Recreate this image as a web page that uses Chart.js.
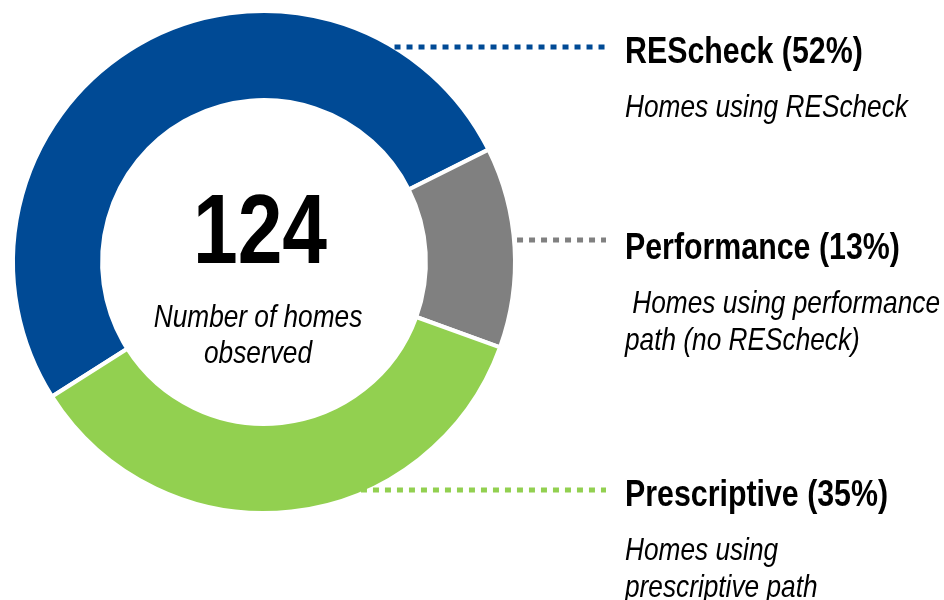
<!DOCTYPE html>
<html>
<head>
<meta charset="utf-8">
<script src="https://cdn.jsdelivr.net/npm/chart.js@4.4.1/dist/chart.umd.min.js"></script>
<style>
    html, body { margin: 0; padding: 0; background: #fff; }
    .chart-box { width: 944px; height: 600px; position: relative; }
</style>
</head>
<body>
<div class="chart-box"><canvas id="pathChart"></canvas></div>
<script>
// Data
const categories = ['REScheck', 'Performance', 'Prescriptive'];
const homeCounts = [64, 16, 44];
const shareLabels = ['52%', '13%', '35%'];
const descriptions = [
    ['Homes using REScheck'],
    [' Homes using performance', 'path (no REScheck)'],
    ['Homes using', 'prescriptive path']
];
const centerCaption = ['Number of homes', 'observed'];
const sliceColors = ['#004a95', '#808080', '#92d050'];

// Arial Narrow look: squeeze Liberation Sans horizontally
const NARROW = 0.82;
const drawText = (ctx, text, x, y, font, align) => {
    ctx.save();
    ctx.font = font;
    ctx.textAlign = align;
    ctx.textBaseline = 'alphabetic';
    ctx.fillStyle = '#000';
    ctx.translate(x, y);
    ctx.scale(NARROW, 1);
    ctx.fillText(text, 0, 0);
    ctx.restore();
};

const calloutPlugin = {
    id: 'callouts',
    afterDraw(chart, args, opts) {
        const ctx = chart.ctx;
        const arc = chart.getDatasetMeta(0).data[0];
        const cx = arc.x, cy = arc.y;
        const r = arc.outerRadius;

        // centre text
        const sum = chart.data.datasets[0].data.reduce((a, b) => a + b, 0);
        drawText(ctx, String(sum), cx - 4, cy + 1, 'bold 98px "Liberation Sans", Arial, sans-serif', 'center');
        centerCaption.forEach((line, i) => {
            drawText(ctx, line, cx - 6, cy + 65 + i * 36, 'italic 32px "Liberation Sans", Arial, sans-serif', 'center');
        });

        // leader lines + labels
        categories.forEach((name, i) => {
            const ly = opts.lineY[i];
            const dy = ly - cy;
            const startX = cx + Math.sqrt(Math.max(r * r - dy * dy, 0)) + opts.gap[i];
            ctx.save();
            ctx.strokeStyle = sliceColors[i];
            ctx.lineWidth = 5;
            ctx.setLineDash([6, 6]);
            ctx.beginPath();
            ctx.moveTo(startX, ly);
            ctx.lineTo(opts.lineEnd, ly);
            ctx.stroke();
            ctx.restore();

            const ty = opts.titleY[i];
            drawText(ctx, name + ' (' + shareLabels[i] + ')', opts.textX, ty,
                'bold 37px "Liberation Sans", Arial, sans-serif', 'left');
            descriptions[i].forEach((line, j) => {
                drawText(ctx, line, opts.textX, ty + 54 + j * 37,
                    'italic 32px "Liberation Sans", Arial, sans-serif', 'left');
            });
        });
    }
};

new Chart(document.getElementById('pathChart'), {
    type: 'doughnut',
    data: {
        labels: categories,
        datasets: [{
            data: homeCounts,
            backgroundColor: sliceColors,
            borderColor: '#ffffff',
            borderWidth: 4,
            hoverOffset: 0
        }]
    },
    options: {
        responsive: true,
        maintainAspectRatio: false,
        animation: false,
        rotation: 237.6,
        cutout: '64.5%',
        layout: {
            padding: { left: 11, top: 9, right: 427, bottom: 85 }
        },
        plugins: {
            legend: { display: false },
            tooltip: { enabled: false },
            callouts: {
                lineY: [47, 240, 490],
                gap: [1, 3, -8],
                lineEnd: 606,
                textX: 625,
                titleY: [63, 259, 506]
            }
        }
    },
    plugins: [calloutPlugin]
});
</script>
</body>
</html>
